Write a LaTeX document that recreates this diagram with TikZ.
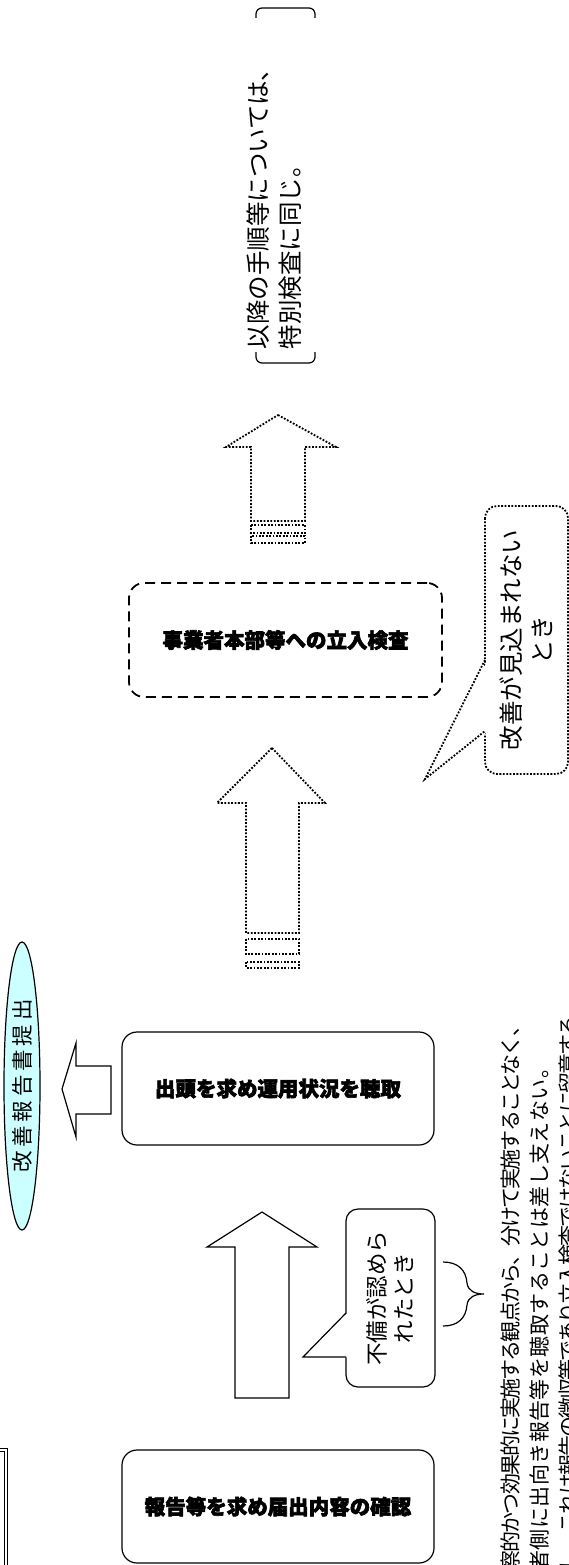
\documentclass[tikz,border=0pt]{standalone}
\usepackage{fontspec}
\setmainfont{Noto Sans CJK JP}
\usetikzlibrary{positioning,shapes.geometric}
\definecolor{paleblue}{HTML}{CCFFFF}

\begin{document}
\begin{tikzpicture}[x=1pt, y=-1pt, line width=1.2pt,
    box/.style={draw, rounded corners=15pt, minimum width=312pt, minimum height=113pt, inner sep=0pt, font=\fontsize{20.5}{24}\selectfont\bfseries\addfontfeature{FakeBold=3}},
    dots/.style={dash pattern=on 1.8pt off 1.6pt, line width=1.8pt},
    say/.style={rotate=90, align=center, inner sep=0pt}]
    \useasboundingbox (0,0) rectangle (569,1565);
    \clip (0,0) rectangle (569,1565);

    % the three steps
    \node (report) [box] at (278,1506.5) {報告等を求め届出内容の確認};
    \node (hearing) [box] at (278,1088.5) {出頭を求め運用状況を聴取};
    \node (onsite) [box, dash pattern=on 10pt off 6pt, line width=1.8pt, minimum width=313pt, minimum height=114pt] at (285.5,640) {事業者本部等への立入検査};

    % improvement report
    \node (submit) [draw, ellipse, fill=paleblue, say, minimum width=288pt, minimum height=36pt, font=\fontsize{21.5}{24}\selectfont\addfontfeature{LetterSpace=18}] at (22,1086) {改善報告書提出};
    \draw (62,1089) -- (76,1043) -- (76,1066) -- (111,1066) -- (111,1114) -- (76,1114) -- (76,1137) -- cycle;

    % report -> hearing
    \draw (262,1212) -- (317,1247) -- (289,1247) -- (289,1398) -- (235,1398) -- (235,1247) -- (207,1247) -- cycle;
    \node (flaw) [draw, fill=white, rounded corners=12pt, say, minimum width=178pt, minimum height=89pt, font=\fontsize{22.5}{27}\selectfont] at (390.5,1298) {不備が認めら\\れたとき};
    \fill[white] (348,1312.5) -- (302,1357) -- (348,1357.4) -- cycle;
    \draw (346,1313) -- (303,1357) -- (346,1357);
    \draw (443,1262) .. controls (458,1262) and (466,1270) .. (467,1283) .. controls (468,1291) and (475,1294) .. (484,1294) .. controls (475,1294) and (468,1297) .. (467,1305) .. controls (466,1318) and (458,1326) .. (443,1326);

    % hearing -> onsite
    \draw[dots] (272,748) -- (325,803) -- (299,803) -- (299,933) -- (246,933) -- (246,803) -- (217,803) -- cycle;
    \draw[dots] (246,939) rectangle (299,954);
    \draw[dots] (246,962) rectangle (299,968);
    \node (nohope) [draw, dots, fill=white, rounded corners=12pt, say, minimum width=268pt, minimum height=83pt, font=\fontsize{24.5}{31}\selectfont] at (526.5,640) {改善が見込まれない\\とき};
    \fill[white] (488,659.5) -- (424,779) -- (488,731.5) -- cycle;
    \draw[dots] (485,660) -- (425,779) -- (485,731);

    % onsite -> later steps
    \draw[dots] (278,415) -- (336,447) -- (305,447) -- (305,521) -- (251,521) -- (251,447) -- (226,447) -- cycle;
    \draw[dots] (251,525) rectangle (305,533);
    \draw[dots] (251,536) rectangle (305,543);
    \draw[rounded corners=6pt] (256,352) -- (256,363) -- (315,363) -- (315,352);
    \draw[rounded corners=6pt] (256,18) -- (256,8) -- (315,8) -- (315,18);
    \node (later) [say, anchor=west, align=left, font=\fontsize{24.5}{32}\selectfont] at (274,350) {以降の手順等については、\\特別検査に同じ。};

    % note at the foot
    \node (note) [say, anchor=west, align=left, font=\fontsize{21}{29}\selectfont] at (540,1572) {{\addfontfeature{LetterSpace=-9}察的かつ効果的に実施する観点から、分けて実施することなく、}\\{\addfontfeature{LetterSpace=2}者側に出向き報告等を聴取することは差し支えない。}\\{\addfontfeature{LetterSpace=-9}し、これは報告の徴収等であり立入検査ではないことに留意する。}};

    % frame edge
    \draw[line width=0.8pt] (-5,1448) -- (7.3,1448) -- (7.3,1570);
    \draw[line width=0.8pt] (-5,1451.5) -- (4,1451.5) -- (4,1570);
\end{tikzpicture}
\end{document}
